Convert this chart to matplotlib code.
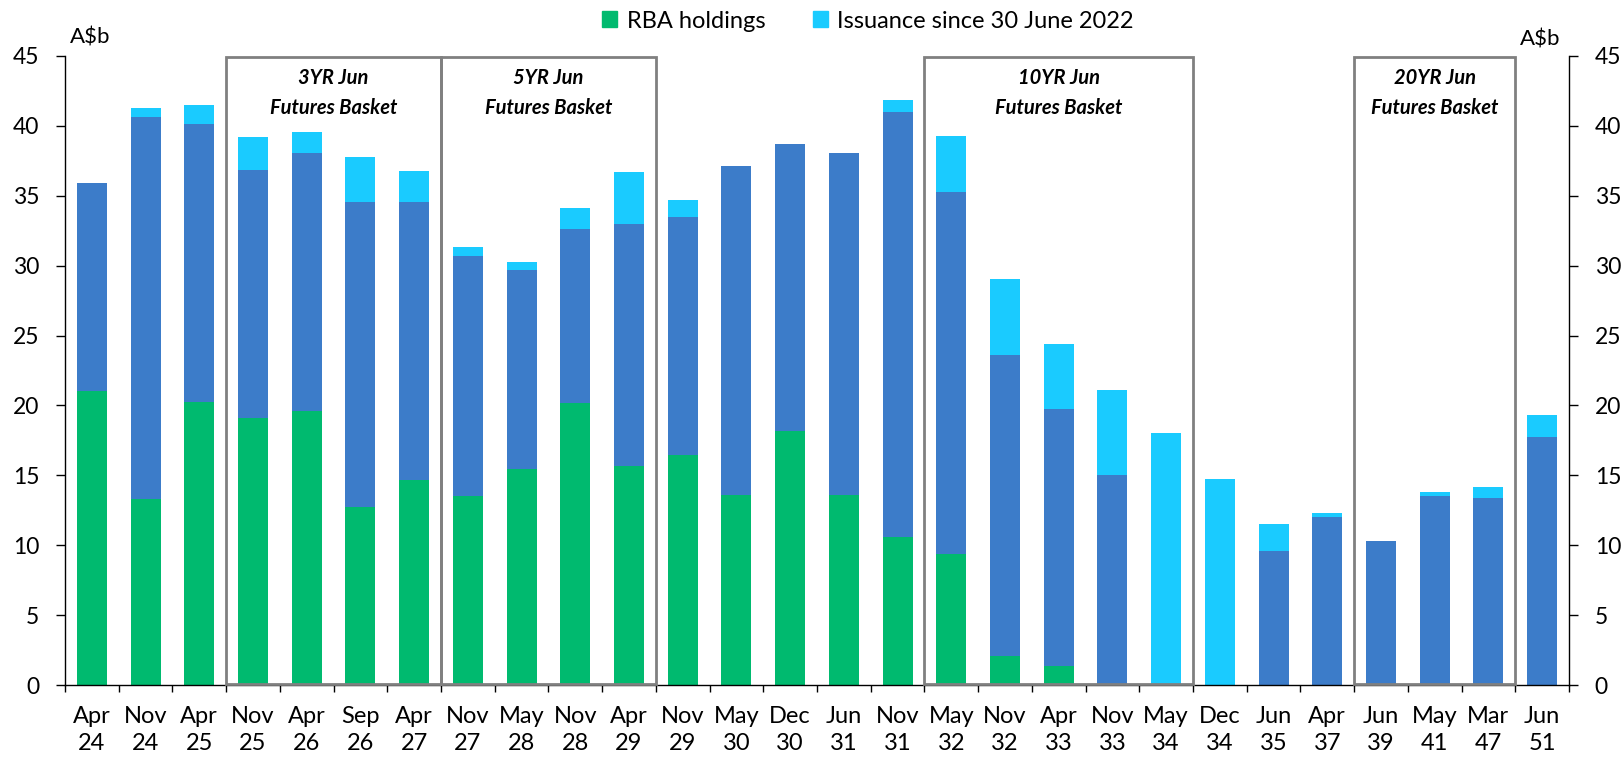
import matplotlib
matplotlib.use("Agg")
import matplotlib.pyplot as plt
from matplotlib.patches import Rectangle, Patch

plt.rcParams['font.family'] = ['Lato', 'DejaVu Sans']

# bond lines on the x axis
bond_labels = ["Apr\n24", "Nov\n24", "Apr\n25", "Nov\n25", "Apr\n26", "Sep\n26", "Apr\n27",
               "Nov\n27", "May\n28", "Nov\n28", "Apr\n29", "Nov\n29", "May\n30", "Dec\n30",
               "Jun\n31", "Nov\n31", "May\n32", "Nov\n32", "Apr\n33", "Nov\n33", "May\n34",
               "Dec\n34", "Jun\n35", "Apr\n37", "Jun\n39", "May\n41", "Mar\n47", "Jun\n51"]

# A$b amounts (stacked)
rba_holdings = [21.05, 13.33, 20.24, 19.10, 19.58, 12.76, 14.66, 13.52, 15.43, 20.15, 15.69, 16.43, 13.61, 18.15,
                13.61, 10.59, 9.37, 2.10, 1.34, 0, 0, 0, 0, 0, 0, 0, 0, 0]
other_holdings = [14.83, 27.30, 19.91, 17.74, 18.50, 21.81, 19.91, 17.19, 14.23, 12.45, 17.29, 17.02, 23.51, 20.57,
                  24.47, 30.42, 25.87, 21.53, 18.40, 15.02, 0, 0, 9.56, 12.04, 10.30, 13.54, 13.35, 17.74]
issuance = [0, 0.67, 1.31, 2.36, 1.48, 3.23, 2.17, 0.64, 0.57, 1.50, 3.69, 1.22, 0, 0,
            0, 0.84, 4.05, 5.39, 4.65, 6.08, 18.05, 14.73, 1.98, 0.24, 0, 0.24, 0.84, 1.55]

# futures baskets: (label, first bond index, last bond index)
baskets = [("3YR Jun\nFutures Basket", 3, 6),
           ("5YR Jun\nFutures Basket", 7, 10),
           ("10YR Jun\nFutures Basket", 16, 20),
           ("20YR Jun\nFutures Basket", 24, 26)]

green = "#00BA6F"
blue = "#3C7CC9"
cyan = "#1ACBFF"
box_grey = "#808080"

fig = plt.figure(figsize=(16.23, 7.63), dpi=100)
ax = fig.add_axes([65/1623, 1 - 685/763, (1569-65)/1623, (685-56)/763])

x = list(range(len(bond_labels)))
w = 0.56
bottom2 = [a + b for a, b in zip(rba_holdings, other_holdings)]
ax.bar(x, rba_holdings, w, color=green, zorder=2)
ax.bar(x, other_holdings, w, bottom=rba_holdings, color=blue, zorder=2)
ax.bar(x, issuance, w, bottom=bottom2, color=cyan, zorder=2)

ax.set_xlim(-0.5, len(x) - 0.5)
ax.set_ylim(0, 45)
ax.set_yticks(range(0, 46, 5))

# boxes round the futures baskets
for label, i0, i1 in baskets:
    ax.add_patch(Rectangle((i0 - 0.5, 0.05), i1 - i0 + 1, 44.85, fill=False,
                           edgecolor=box_grey, lw=2, zorder=3, clip_on=False))
    ax.text((i0 + i1) / 2, 42.35, label, ha="center", va="center", fontsize=14.5,
            fontweight="bold", fontstyle="italic", linespacing=1.65, zorder=4)

ax.set_xticks(x)
ax.set_xticklabels(bond_labels, fontsize=17, linespacing=1.35)
ax.set_xticks([i - 0.5 for i in range(len(x) + 1)], minor=True)
ax.tick_params(axis="x", which="major", length=0, pad=15)
ax.tick_params(axis="x", which="minor", length=5, width=1, direction="out")
ax.tick_params(axis="y", which="major", length=6.5, width=1, direction="out", labelsize=16.5,
               pad=12, left=True, right=True, labelleft=True, labelright=True)

ax.spines["top"].set_visible(False)
for s in ["left", "right", "bottom"]:
    ax.spines[s].set_linewidth(1)

fig.text(70/1623, 1 - 38/763, "A$b", fontsize=16, va="center", ha="left")
fig.text(1520/1623, 1 - 39/763, "A$b", fontsize=16, va="center", ha="left")

handles = [Patch(color=green, label="RBA holdings"),
           Patch(color=cyan, label="Issuance since 30 June 2022")]
fig.legend(handles=handles, loc="center", bbox_to_anchor=(868/1623, 1 - 21/763), ncol=2,
           frameon=False, fontsize=17, handlelength=0.65, handleheight=0.65,
           handletextpad=0.4, columnspacing=2.0)

fig.savefig("out.png", dpi=100)
